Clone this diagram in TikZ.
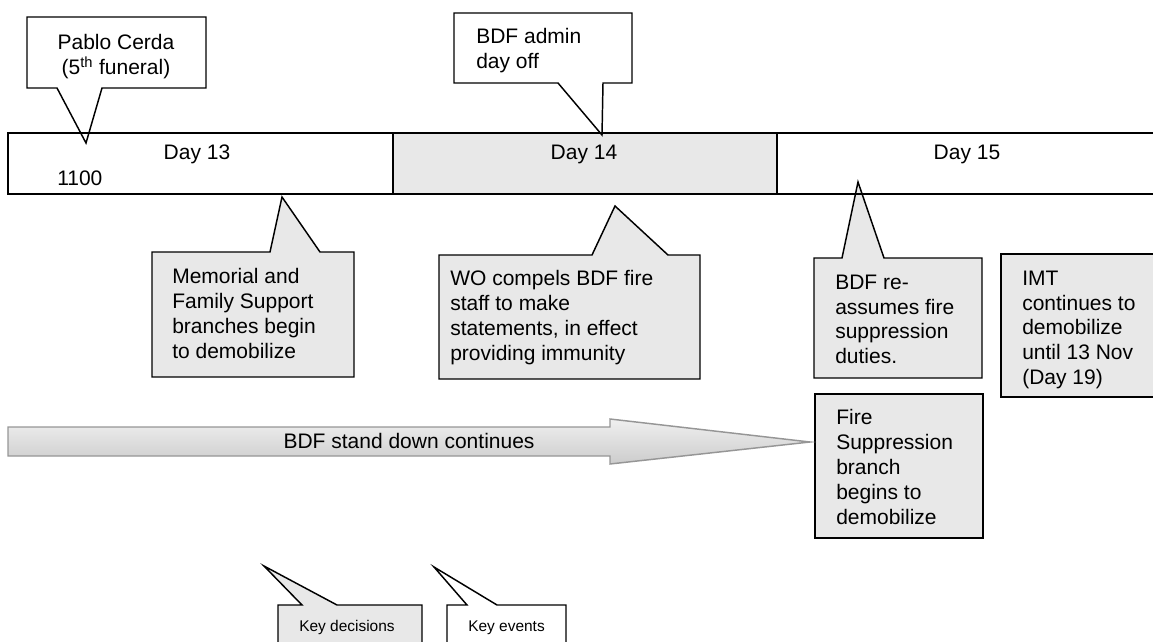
\documentclass[tikz,border=0pt]{standalone}
\usepackage{fontspec}
\setmainfont{Liberation Sans}
\definecolor{boxgray}{RGB}{232,232,232}
\definecolor{arrowline}{RGB}{150,150,150}

\tikzset{
  frame/.style={draw=black, line width=1.1pt, line join=miter},
  decision/.style={frame, fill=boxgray},
  event/.style={frame, fill=white},
  bodyfont/.style={font=\fontsize{15.75pt}{18.6pt}\selectfont},
  txt/.style={bodyfont, inner sep=0pt, align=left, anchor=north west},
  ctxt/.style={bodyfont, inner sep=0pt, align=center, anchor=north},
  lbl/.style={bodyfont, inner sep=0pt, anchor=base},
  legendtxt/.style={font=\fontsize{11.6pt}{14pt}\selectfont, inner sep=0pt, anchor=base west},
  bigarrow/.style={draw=arrowline, line width=1.1pt, line join=miter,
    top color=gray!12, middle color=white, bottom color=gray!40},
}

\begin{document}
\begin{tikzpicture}[x=0.75pt, y=-0.75pt]
  \useasboundingbox (0,0) rectangle (1153,642);
  \clip (0,0) rectangle (1153,642);

  % timeline background (days)
  \fill[white] (8,133) rectangle (393,194);
  \fill[boxgray] (393,133) rectangle (777,194);
  \fill[white] (777,133) rectangle (1160,194);

  % event callouts above the timeline
  \draw[event] (27,17) -- (206,17) -- (206,88) -- (102,88) -- (86,143) -- (57,88) -- (27,88) -- cycle;
  \draw[event] (454,13) -- (632,13) -- (632,83) -- (603,83) -- (602,135) -- (558,83) -- (454,83) -- cycle;

  % decision callouts below the timeline
  \draw[decision] (152,252) -- (270,252) -- (282,197) -- (320,252) -- (354,252) -- (354,377) -- (152,377) -- cycle;
  \draw[decision] (439,255) -- (592,255) -- (615,206) -- (668,255) -- (700,255) -- (700,379) -- (439,379) -- cycle;
  \draw[decision] (814,258) -- (842,258) -- (858,182) -- (884,258) -- (982,258) -- (982,378) -- (814,378) -- cycle;
  \draw[decision] (1001,254) rectangle (1160,397);
  \draw[decision] (815,394) rectangle (983,538);

  % timeline outline and day dividers
  \draw[frame] (1160,133) -- (8,133) -- (8,194) -- (1160,194);
  \draw[frame] (393,133) -- (393,194);
  \draw[frame] (777,133) -- (777,194);

  \node[lbl] (day13) at (197,159.5) {Day 13};
  \node[lbl] (day14) at (584,159.5) {Day 14};
  \node[lbl] (day15) at (967,159.5) {Day 15};
  \node[lbl, anchor=base west] (t1100) at (57,185.5) {1100};

  % callout texts
  \node[ctxt] (pablo) at (116,34.5) {Pablo Cerda\\(5\textsuperscript{th} funeral)};
  \node[txt] (admin) at (476,28.5) {BDF admin\\day off};
  \node[txt] (memorial) at (172,268.5) {Memorial and\\Family Support\\branches begin\\to demobilize};
  \node[txt] (wo) at (450,270.5) {WO compels BDF fire\\staff to make\\statements, in effect\\providing immunity};
  \node[txt] (reassume) at (835,274.5) {BDF re-\\assumes fire\\suppression\\duties.};
  \node[txt] (imt) at (1022,270.5) {IMT\\continues to\\demobilize\\until 13 Nov\\(Day 19)};
  \node[txt] (firesup) at (836,409.5) {Fire\\Suppression\\branch\\begins to\\demobilize};

  % stand-down block arrow
  \draw[bigarrow] (8,427) -- (610,427) -- (610,419) -- (810,442) -- (610,464) -- (610,456) -- (8,456) -- cycle;
  \node[lbl] (standdown) at (409,448.5) {BDF stand down continues};

  % legend
  \draw[decision] (278,605) -- (302,605) -- (264,566) -- (337,605) -- (422,605) -- (422,660) -- (278,660) -- cycle;
  \draw[event] (447,605) -- (467,605) -- (434,567) -- (497,605) -- (566,605) -- (566,660) -- (447,660) -- cycle;
  \node[legendtxt] (keydec) at (299,631.5) {Key decisions};
  \node[legendtxt] (keyev) at (468,631.5) {Key events};
\end{tikzpicture}
\end{document}
